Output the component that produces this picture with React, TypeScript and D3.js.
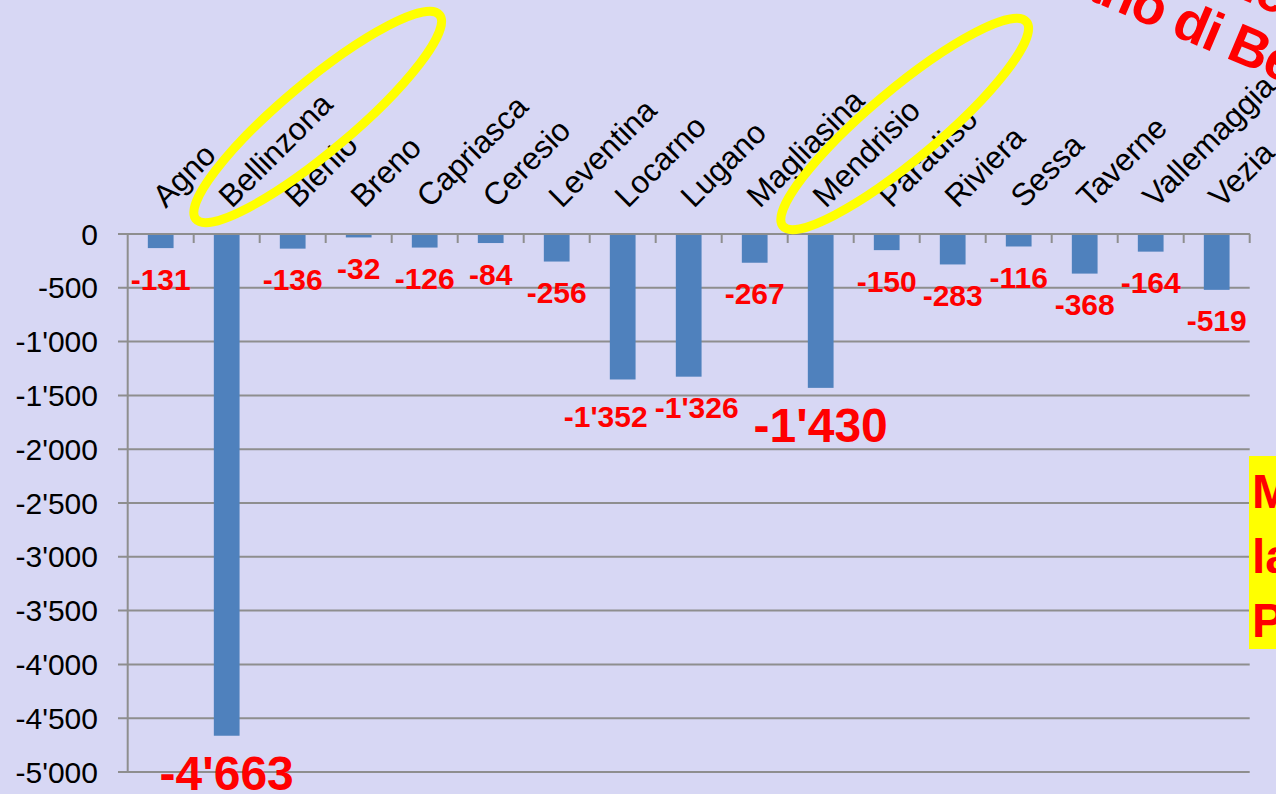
import React from "react";
import * as d3 from "d3";

const categories = [
  "Agno", "Bellinzona", "Blenio", "Breno", "Capriasca", "Ceresio", "Leventina",
  "Locarno", "Lugano", "Magliasina", "Mendrisio", "Paradiso", "Riviera",
  "Sessa", "Taverne", "Vallemaggia", "Vezia",
];
const values = [
  -131, -4663, -136, -32, -126, -84, -256, -1352, -1326, -267, -1430, -150,
  -283, -116, -368, -164, -519,
];
const yTicks = [0, -500, -1000, -1500, -2000, -2500, -3000, -3500, -4000, -4500, -5000];
const highlighted = ["Bellinzona", "Mendrisio"];
const labelNudges: Record<string, [number, number]> = { Locarno: [-17, 6], Lugano: [8, 0] };
const ellipseNudges: Record<string, [number, number]> = { Bellinzona: [91, 117], Mendrisio: [84, 124] };
const titleLines = ["Perdite nette di posti", "Piano di Bellinzona"];
const noteLines = ["Mendrisio", "la città", "Piano"];

const FONT = "'Liberation Sans', Arial, Helvetica, sans-serif";
const BG = "#D7D7F4";
const GRID = "#8E8E8E";
const BAR = "#4F81BD";
const RED = "#FF0000";
const YELLOW = "#FFFF00";

export default function App() {
  const W = 1276;
  const H = 794;
  const left = 127.7;
  const right = 1249.7;
  const x = d3.scaleBand<string>().domain(categories).range([left, right]).padding(0);
  const y = d3.scaleLinear().domain([0, -5000]).range([234, 772]);
  const locale = d3.formatLocale({
    decimal: ".",
    thousands: "'",
    grouping: [3],
    currency: ["", ""],
    minus: "-",
  });
  const fmt = locale.format(",d");
  const barW = x.bandwidth() * 0.39;
  const cx = (c: string) => (x(c) as number) + x.bandwidth() / 2;

  return (
    <svg
      width={W}
      height={H}
      style={{ position: "fixed", left: 0, top: 0, display: "block" }}
      fontFamily={FONT}
    >
      <rect x={0} y={0} width={W} height={H} fill={BG} />

      {/* gridlines */}
      {yTicks.map((t) => (
        <line
          key={"g" + t}
          x1={118}
          x2={right}
          y1={y(t)}
          y2={y(t)}
          stroke={GRID}
          strokeWidth={2}
        />
      ))}
      {/* y axis line */}
      <line x1={left} x2={left} y1={y(0)} y2={y(-5000)} stroke={GRID} strokeWidth={2} />
      {/* category ticks below zero line */}
      {categories.map((c) => (
        <line
          key={"t" + c}
          x1={(x(c) as number) + x.bandwidth()}
          x2={(x(c) as number) + x.bandwidth()}
          y1={y(0)}
          y2={y(0) + 9}
          stroke={GRID}
          strokeWidth={2}
        />
      ))}
      {/* y tick labels */}
      {yTicks.map((t) => (
        <text key={"yl" + t} x={98} y={y(t) + 10.5} textAnchor="end" fontSize={30} fill="#000">
          {fmt(t)}
        </text>
      ))}

      {/* bars */}
      {categories.map((c, i) => (
        <rect
          key={"b" + c}
          x={cx(c) - barW / 2}
          y={y(0)}
          width={barW}
          height={y(values[i]) - y(0)}
          fill={BAR}
        />
      ))}
      {/* zero line on top */}
      <line x1={118} x2={right} y1={y(0)} y2={y(0)} stroke={GRID} strokeWidth={2} />

      {/* category labels */}
      {categories.map((c) => (
        <text
          key={"cl" + c}
          transform={`translate(${cx(c) + 5},${209}) rotate(-45)`}
          fontSize={31.5}
          fill="#000"
        >
          {c}
        </text>
      ))}

      {/* highlight ellipses */}
      {highlighted.map((c) => {
        const [ex, ey] = ellipseNudges[c] || [88, 120];
        return (
          <ellipse
            key={"e" + c}
            cx={0}
            cy={0}
            rx={159}
            ry={35}
            transform={`translate(${cx(c) + ex},${ey}) rotate(-40)`}
            fill="none"
            stroke={YELLOW}
            strokeWidth={9}
          />
        );
      })}

      {/* data labels */}
      {categories.map((c, i) => {
        const big = highlighted.includes(c);
        const fs = big ? 48 : 30;
        const [dx, dy] = labelNudges[c] || [0, 0];
        return (
          <text
            key={"dl" + c}
            x={cx(c) + dx}
            y={y(values[i]) + 20 + 0.72 * fs + dy}
            textAnchor="middle"
            fontSize={fs}
            fontWeight="bold"
            fill={RED}
          >
            {fmt(values[i])}
          </text>
        );
      })}

      {/* rotated red title (partially off-canvas) */}
      {titleLines.map((line, i) => (
        <text
          key={"tt" + i}
          transform={`translate(${1026 + (titleLines.length - 1 - i) * 22},${-27 - (titleLines.length - 1 - i) * 56}) rotate(23)`}
          fontSize={55}
          fontWeight="bold"
          fill={RED}
          letterSpacing={-1.5}
        >
          {line}
        </text>
      ))}

      {/* yellow note box on the right edge */}
      <rect x={1249} y={456} width={60} height={193} fill={YELLOW} />
      {noteLines.map((line, i) => (
        <text
          key={"n" + i}
          x={1252}
          y={508 + i * 64.5}
          fontSize={48}
          fontWeight="bold"
          fill={RED}
        >
          {line}
        </text>
      ))}
    </svg>
  );
}
